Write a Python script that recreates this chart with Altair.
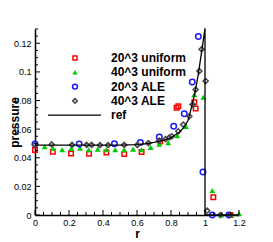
import altair as alt
import pandas as pd

# ---- data ----
red_r = [0.0, 0.105, 0.212, 0.318, 0.42, 0.525, 0.627, 0.737, 0.833, 0.843, 0.937, 0.945, 1.049, 1.15]
red_p = [0.0454, 0.0442, 0.043, 0.0428, 0.0437, 0.0426, 0.0440, 0.0514, 0.0749, 0.076, 0.0788, 0.0744, 0.0124, 0.0]

green_r = [0.057, 0.107, 0.16, 0.214, 0.265, 0.316, 0.369, 0.42, 0.472, 0.525, 0.577, 0.627, 0.68,
           0.731, 0.784, 0.837, 0.888, 0.937, 0.99, 1.043, 1.096, 1.148, 1.2]
green_p = [0.0477, 0.0465, 0.0456, 0.0465, 0.0468, 0.0456, 0.046, 0.0456, 0.0456, 0.0456, 0.046, 0.0456, 0.0472,
           0.0496, 0.0505, 0.0554, 0.062, 0.0842, 0.0823, 0.017, 0.0, 0.0, 0.001]

blue_r = [0.0, 0.26, 0.467, 0.62, 0.731, 0.816, 0.878, 0.925, 0.961, 0.988, 1.043, 1.14]
blue_p = [0.0496, 0.0496, 0.0498, 0.0507, 0.0545, 0.062, 0.0707, 0.0929, 0.1247, 0.030, 0.0, 0.0]

gray_r = [0.0, 0.098, 0.218, 0.304, 0.333, 0.382, 0.43, 0.525, 0.602, 0.667, 0.731, 0.768, 0.79, 0.805,
          0.843, 0.872, 0.908, 0.927, 0.945, 0.967, 0.98, 1.004, 1.013, 1.09, 1.147]
gray_p = [0.049, 0.0493, 0.049, 0.049, 0.049, 0.0488, 0.0488, 0.049, 0.049, 0.0503, 0.052, 0.053, 0.0542, 0.055,
          0.0585, 0.0632, 0.069, 0.0772, 0.0877, 0.1006, 0.1158, 0.0936, 0.003, 0.0, 0.0]

ref_r = [0.0, 0.5, 0.6, 0.65, 0.7, 0.75, 0.8, 0.85, 0.875, 0.9, 0.92, 0.94, 0.96, 0.98, 0.99, 1.0, 1.0, 1.2]
ref_p = [0.0488, 0.0488, 0.0492, 0.0498, 0.0507, 0.052, 0.054, 0.058, 0.061, 0.066, 0.075, 0.085, 0.098,
         0.114, 0.122, 0.1305, 0.0, 0.0]

x_major = [0.0, 0.2, 0.4, 0.6, 0.8, 1.0, 1.2]
x_minor = [0.05, 0.1, 0.15, 0.25, 0.3, 0.35, 0.45, 0.5, 0.55, 0.65, 0.7, 0.75, 0.85, 0.9, 0.95, 1.05, 1.1, 1.15]
y_major = [0.0, 0.02, 0.04, 0.06, 0.08, 0.1, 0.12]
y_minor = [0.005, 0.01, 0.015, 0.025, 0.03, 0.035, 0.045, 0.05, 0.055, 0.065, 0.07, 0.075,
           0.085, 0.09, 0.095, 0.105, 0.11, 0.115, 0.125, 0.13]

legend_labels = ["20^3 uniform", "40^3 uniform", "20^3 ALE", "40^3 ALE", "ref"]

W, H = 204, 186
FONT = "Liberation Sans"
XS = alt.Scale(domain=[0, 1.2], nice=False, zero=False)
YS = alt.Scale(domain=[0, 0.13], nice=False, zero=False)

X_AXIS = alt.Axis(title="r", values=x_major, format="~g", ticks=False, labelPadding=3, grid=False,
                  labelFlush=False, labelOverlap=False, titleY=22, titleBaseline="alphabetic")
Y_AXIS = alt.Axis(title="pressure", values=y_major, format=".2~f", ticks=False, labelPadding=4, grid=False,
                  labelFlush=False, labelOverlap=False, titleX=-14, titleY=H / 2, titleAngle=270,
                  titleAlign="center", titleBaseline="bottom")

series = [
    (red_r, red_p, "square", "#ff0000", False, 20),
    (green_r, green_p, "triangle-up", "#00cc00", True, 36),
    (blue_r, blue_p, "circle", "#1a1aff", False, 30),
    (gray_r, gray_p, "diamond", "#484848", False, 26),
]

layers = []
for k, (rr, pp, shp, col, filled, sz) in enumerate(series):
    df = pd.DataFrame({"r": rr, "p": pp})
    mk = alt.Chart(df).mark_point(shape=shp, filled=filled, size=sz, strokeWidth=1.5 if not filled else 0,
                                  color=col, opacity=1).encode(
        x=alt.X("r:Q", scale=XS, axis=X_AXIS),
        y=alt.Y("p:Q", scale=YS, axis=Y_AXIS),
    )
    layers.append(mk)

ref_df = pd.DataFrame({"r": ref_r, "p": ref_p, "i": list(range(len(ref_r)))})
layers.append(alt.Chart(ref_df).mark_line(color="black", strokeWidth=1.3).encode(
    x=alt.X("r:Q", scale=XS, axis=X_AXIS),
    y=alt.Y("p:Q", scale=YS, axis=Y_AXIS),
    order="i:Q",
))

# inward tick marks
def xticks(vals, ln):
    return alt.Chart(pd.DataFrame({"t": vals})).mark_rule(color="black", strokeWidth=1).encode(
        x=alt.X("t:Q", scale=XS, axis=X_AXIS), y=alt.value(H), y2=alt.value(H - ln))

def yticks(vals, ln):
    return alt.Chart(pd.DataFrame({"t": vals})).mark_rule(color="black", strokeWidth=1).encode(
        y=alt.Y("t:Q", scale=YS, axis=Y_AXIS), x=alt.value(0), x2=alt.value(ln))

layers += [xticks(x_major, 5), xticks(x_minor, 3), yticks(y_major, 5), yticks(y_minor, 3)]

# legend (layout in pixels)
LX_MARK, LX_TEXT, LY0, LDY = 40, 76, 29, 14.3
one = pd.DataFrame({"a": [0]})
for i, (rr, pp, shp, col, filled, sz) in enumerate(series):
    layers.append(alt.Chart(one).mark_point(shape=shp, filled=filled, size=sz * 0.8,
                                            strokeWidth=1.5 if not filled else 0, color=col, opacity=1).encode(
        x=alt.value(LX_MARK), y=alt.value(LY0 + i * LDY)))
layers.append(alt.Chart(one).mark_rule(color="black", strokeWidth=1.3).encode(
    x=alt.value(13), x2=alt.value(66), y=alt.value(LY0 + 4 * LDY)))
for i, lab in enumerate(legend_labels):
    layers.append(alt.Chart(pd.DataFrame({"t": [lab]})).mark_text(
        align="left", baseline="middle", font=FONT, fontSize=12, fontWeight="bold", color="black").encode(
        x=alt.value(LX_TEXT), y=alt.value(LY0 + i * LDY), text="t:N"))

chart = alt.layer(*layers).properties(
    width=W, height=H,
    padding={"left": 27, "top": 21, "right": 26, "bottom": 27},
    autosize=alt.AutoSizeParams(type="none"),
).configure_view(stroke=None).configure_axis(
    domainColor="black", domainWidth=1.5, labelFont=FONT, labelFontSize=9, labelColor="black",
    titleFont=FONT, titleFontSize=12, titleFontWeight="bold", titleColor="black",
)

chart.save("out.html", embed_options={"renderer": "svg", "actions": False})
